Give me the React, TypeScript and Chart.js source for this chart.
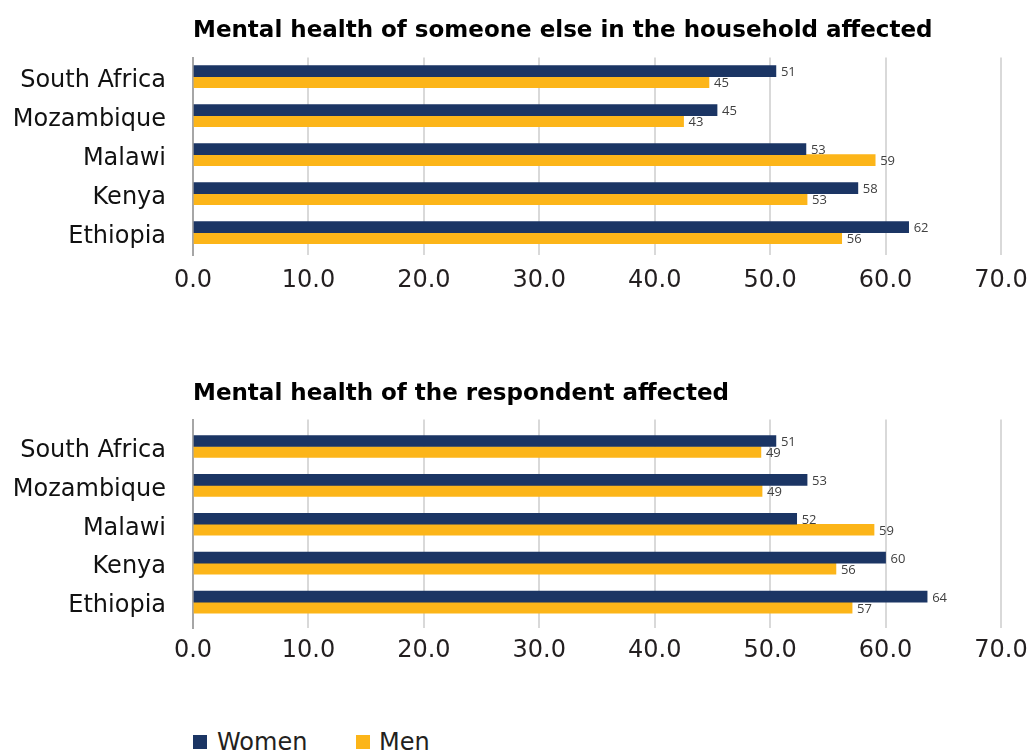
import React, { useEffect, useRef } from "react";
import { Chart, registerables } from "chart.js";

Chart.register(...registerables);

const categories = ["South Africa", "Mozambique", "Malawi", "Kenya", "Ethiopia"];
const householdWomen = [50.5, 45.4, 53.1, 57.6, 62.0];
const householdMen = [44.7, 42.5, 59.1, 53.2, 56.2];
const respondentWomen = [50.5, 53.2, 52.3, 60.0, 63.6];
const respondentMen = [49.2, 49.3, 59.0, 55.7, 57.1];
const xTickValues = [0, 10, 20, 30, 40, 50, 60, 70];
const seriesNames = ["Women", "Men"];
const titleHousehold = "Mental health of someone else in the household affected";
const titleRespondent = "Mental health of the respondent affected";

const FONT = '"DejaVu Sans", sans-serif';
const LABEL_FONT = '"Open Sans", "DejaVu Sans", sans-serif';
const NAVY = "#1b3564";
const GOLD = "#fcb519";

const valueLabels = {
  id: "valueLabels",
  afterDatasetsDraw(chart: any) {
    const ctx = chart.ctx;
    ctx.save();
    ctx.font = `13px ${LABEL_FONT}`;
    ctx.fillStyle = "#404040";
    ctx.textBaseline = "middle";
    ctx.textAlign = "left";
    chart.data.datasets.forEach((ds: any, di: number) => {
      const meta = chart.getDatasetMeta(di);
      meta.data.forEach((el: any, i: number) => {
        const v = ds.data[i].x;
        ctx.fillText(String(Math.round(v)), el.x + 5, el.y + 1.5);
      });
    });
    ctx.restore();
  },
};

type PanelProps = {
  title: string;
  women: number[];
  men: number[];
  yMin: number;
  yMax: number;
  xHeight: number;
  tickPad: number;
  titleBottom: number;
  top: number;
};

function Panel(p: PanelProps) {
  const ref = useRef<HTMLCanvasElement | null>(null);
  useEffect(() => {
    if (!ref.current) return;
    const chart = new Chart(ref.current, {
      type: "bar",
      data: {
        datasets: [
          {
            label: seriesNames[0],
            data: p.women.map((v, i) => ({ x: v, y: i })),
            backgroundColor: NAVY,
            barThickness: 11,
          },
          {
            label: seriesNames[1],
            data: p.men.map((v, i) => ({ x: v, y: i })),
            backgroundColor: GOLD,
            barThickness: 11,
          },
        ],
      },
      options: {
        indexAxis: "y",
        responsive: false,
        animation: false,
        events: [],
        layout: { padding: 0 },
        scales: {
          x: {
            type: "linear",
            min: 0,
            max: 70,
            afterBuildTicks: (s: any) => {
              s.ticks = xTickValues.map((value) => ({ value }));
            },
            afterFit: (s: any) => {
              s.height = p.xHeight;
              s.paddingLeft = 0;
              s.paddingRight = 31;
            },
            ticks: {
              callback: (v: any) => Number(v).toFixed(1),
              font: { family: FONT, size: 24 },
              color: "#231f20",
              padding: p.tickPad,
              maxRotation: 0,
              autoSkip: false,
            },
            grid: { color: "#d9d9d9", lineWidth: 2, drawTicks: false },
            border: { display: false },
          },
          y: {
            type: "linear",
            offset: false,
            reverse: true,
            min: p.yMin,
            max: p.yMax,
            afterBuildTicks: (s: any) => {
              s.ticks = categories.map((_, i) => ({ value: i }));
            },
            afterFit: (s: any) => {
              s.width = 193;
              s.paddingTop = 0;
              s.paddingBottom = 0;
            },
            ticks: {
              callback: (v: any) => categories[v] ?? "",
              font: { family: FONT, size: 24 },
              color: "#111111",
              padding: 27,
              labelOffset: 4,
              autoSkip: false,
            },
            grid: { display: false, drawTicks: false },
            border: { display: true, color: "#a6a6a6", width: 2 },
          },
        },
        plugins: {
          legend: { display: false },
          tooltip: { enabled: false },
          title: {
            display: true,
            text: p.title,
            align: "start",
            position: "top",
            fullSize: false,
            color: "#000000",
            font: { family: FONT, size: 23, weight: "bold" },
            padding: { top: 17, bottom: p.titleBottom },
          },
        },
      },
      plugins: [valueLabels],
    } as any);
    return () => chart.destroy();
  }, []);
  return (
    <canvas
      ref={ref}
      width={1032}
      height={300}
      style={{ position: "absolute", left: 0, top: p.top, display: "block" }}
    />
  );
}

export default function App() {
  useEffect(() => {
    document.body.style.margin = "0";
  }, []);
  const legendText: React.CSSProperties = {
    position: "absolute",
    top: 728,
    height: 28,
    lineHeight: "28px",
    fontFamily: FONT,
    fontSize: 24,
    color: "#231f20",
    whiteSpace: "nowrap",
  };
  const sq = (left: number, color: string): React.CSSProperties => ({
    position: "absolute",
    left,
    top: 735,
    width: 14,
    height: 14,
    background: color,
  });
  return (
    <div
      style={{
        position: "relative",
        width: 1032,
        height: 751,
        overflow: "hidden",
        background: "#ffffff",
      }}
    >
      <Panel
        title={titleHousehold}
        women={householdWomen}
        men={householdMen}
        yMin={-0.486}
        yMax={4.575}
        xHeight={45}
        tickPad={11}
        titleBottom={13}
        top={0}
      />
      <Panel
        title={titleRespondent}
        women={respondentWomen}
        men={respondentMen}
        yMin={-0.692}
        yMax={4.667}
        xHeight={35}
        tickPad={8}
        titleBottom={12}
        top={363}
      />
      <div style={sq(193, NAVY)} />
      <div style={{ ...legendText, left: 217 }}>{seriesNames[0]}</div>
      <div style={sq(356, GOLD)} />
      <div style={{ ...legendText, left: 379 }}>{seriesNames[1]}</div>
    </div>
  );
}
